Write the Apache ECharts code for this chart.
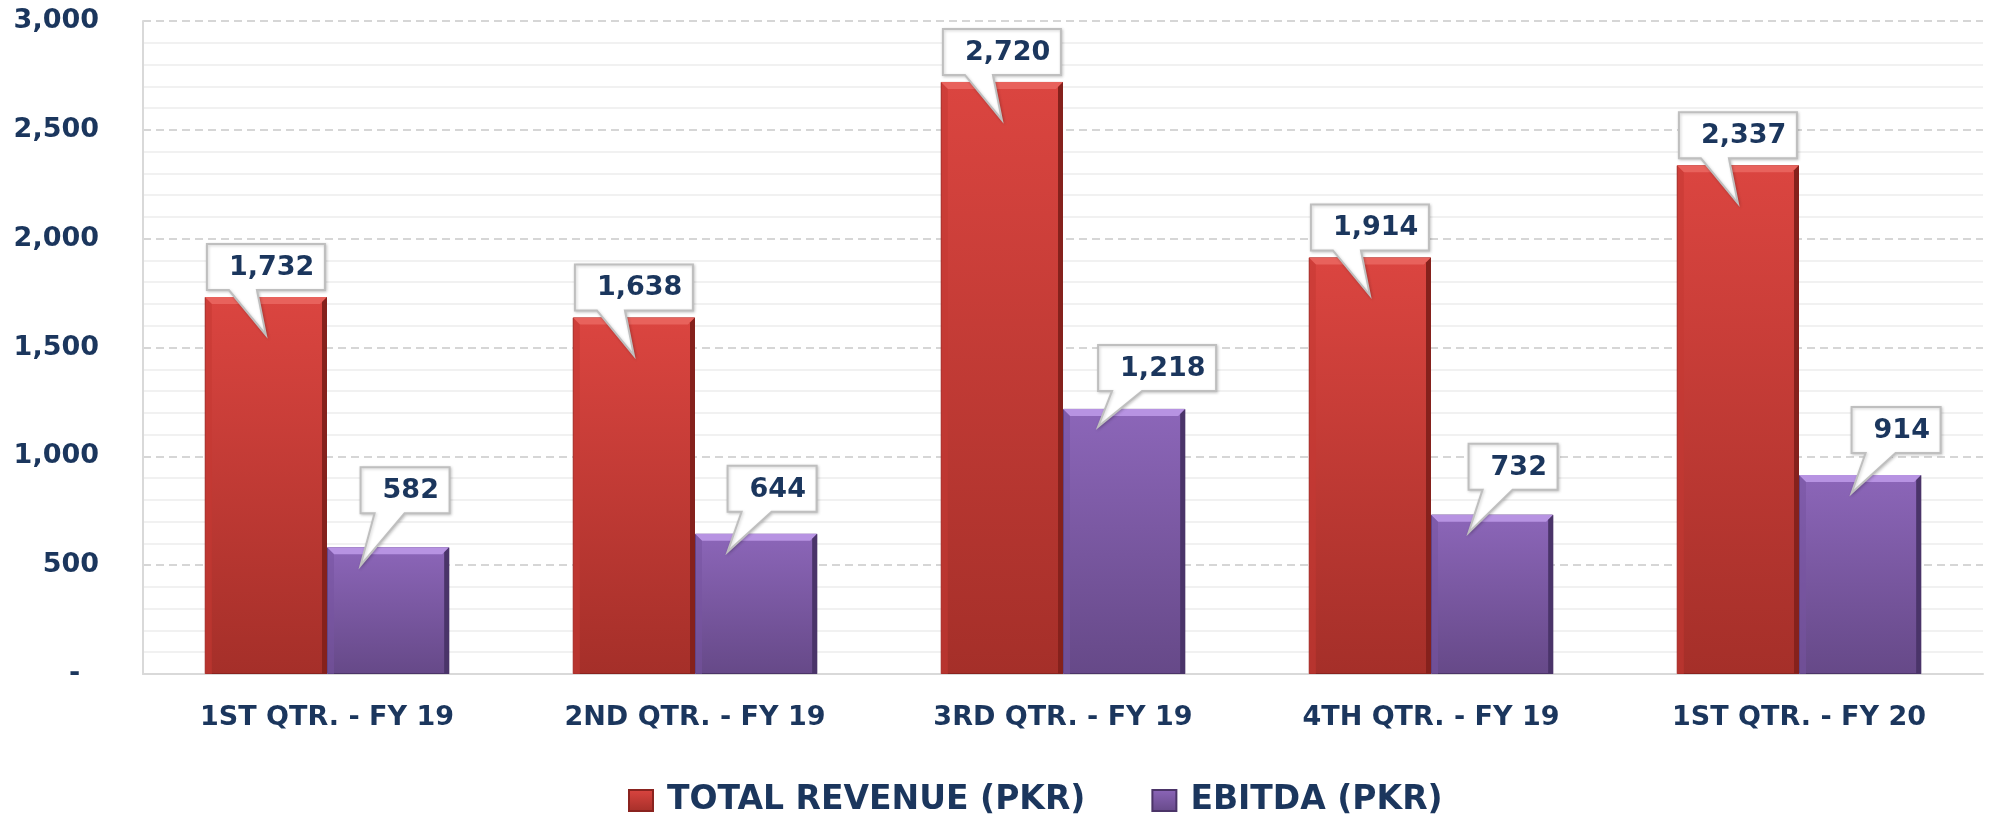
<!DOCTYPE html>
<html>
<head>
<meta charset="utf-8">
<script src="https://cdn.jsdelivr.net/npm/echarts@6/dist/echarts.min.js"></script>
<style>
html,body{margin:0;padding:0;background:#fff;}
#chart{width:1995px;height:817px;}
</style>
</head>
<body>
<div id="chart"></div>
<script>
// ---- data ----
const categories = ['1ST QTR. - FY 19', '2ND QTR. - FY 19', '3RD QTR. - FY 19', '4TH QTR. - FY 19', '1ST QTR. - FY 20'];
const seriesNames = ['TOTAL REVENUE (PKR)', 'EBITDA (PKR)'];
const revenue = [1732, 1638, 2720, 1914, 2337];
const ebitda = [582, 644, 1218, 732, 914];
const yTicks = [0, 500, 1000, 1500, 2000, 2500, 3000];

// ---- layout of callouts for the EBITDA labels (pixel nudges, not data) ----
const ebitdaCalloutDx = [17, 16, 33, 21, 36];
const ebitdaCalloutGap = [34, 22, 18, 25, 22];

const NAVY = '#1b365d';
const FONT = '"DejaVu Sans", Verdana, sans-serif';
const CAT_GAP = 0.336;

const fmt = v => v === 0 ? '-  ' : v.toLocaleString('en-US');

const mctx = document.createElement('canvas').getContext('2d');
mctx.font = 'bold 27px ' + FONT;
const measure = t => mctx.measureText(t).width;

const pointData = [];
revenue.forEach((v, i) => pointData.push([i, v, 0]));
ebitda.forEach((v, i) => pointData.push([i, v, 1]));

function barGeom(api) {
  const ci = api.value(0), v = api.value(1), s = api.value(2);
  const pt = api.coord([ci, v]);
  const base = api.coord([ci, 0]);
  const bw = api.size([1, 0])[0] * (1 - CAT_GAP) / 2;
  const cx = pt[0] + (s === 0 ? -bw / 2 : bw / 2);
  return { ci, v, s, cx, top: pt[1], bottom: base[1], bw };
}

const bevelColors = [
  { top: '#e8625c', left: '#c53933', right: '#85211c' },
  { top: '#b793e2', left: '#7753a0', right: '#4a3469' }
];

function renderBevel(params, api) {
  const g = barGeom(api);
  const x0 = g.cx - g.bw / 2, x1 = g.cx + g.bw / 2;
  const t = g.top, b = g.bottom, k = 7;
  const c = bevelColors[g.s];
  return {
    type: 'group',
    children: [
      { type: 'polygon', shape: { points: [[x0, t], [x1, t], [x1 - k, t + k], [x0 + k, t + k]] }, style: { fill: c.top } },
      { type: 'polygon', shape: { points: [[x0, t], [x0 + k, t + k], [x0 + k, b], [x0, b]] }, style: { fill: c.left, opacity: 0.55 } },
      { type: 'polygon', shape: { points: [[x1, t], [x1, b], [x1 - 5, b], [x1 - 5, t + 5]] }, style: { fill: c.right } }
    ]
  };
}

function renderCallout(params, api) {
  const g = barGeom(api);
  const cx = g.cx, top = g.top, ci = g.ci;
  const txt = fmt(g.v);
  const w = Math.round(measure(txt) + 33), h = 46;
  let bx, by, b1, b2, tip;
  if (g.s === 0) {
    bx = cx - w / 2; by = top - 7 - h;
    b1 = bx + 22; b2 = bx + 50; tip = [cx, top + 38];
  } else {
    bx = cx + ebitdaCalloutDx[ci] - w / 2; by = top - ebitdaCalloutGap[ci] - h;
    b1 = bx + 14; b2 = bx + 44; tip = [bx, top + 18];
  }
  return {
    type: 'group',
    children: [
      {
        type: 'polygon',
        shape: { points: [[bx, by], [bx + w, by], [bx + w, by + h], [b2, by + h], tip, [b1, by + h], [bx, by + h]] },
        style: { fill: '#ffffff', stroke: '#bfbfbf', lineWidth: 2, shadowBlur: 3, shadowColor: 'rgba(0,0,0,0.18)', shadowOffsetX: 1, shadowOffsetY: 1 }
      },
      {
        type: 'text',
        style: { text: txt, x: bx + 22, y: by + h / 2 + 1, verticalAlign: 'middle', align: 'left', font: 'bold 27px ' + FONT, fill: NAVY }
      }
    ]
  };
}

const redGrad = new echarts.graphic.LinearGradient(0, 0, 0, 1, [
  { offset: 0, color: '#db4540' }, { offset: 1, color: '#a52f29' }
]);
const purpleGrad = new echarts.graphic.LinearGradient(0, 0, 0, 1, [
  { offset: 0, color: '#8c66b9' }, { offset: 1, color: '#664988' }
]);

const chart = echarts.init(document.getElementById('chart'), null, { renderer: 'canvas' });
chart.setOption({
  animation: false,
  backgroundColor: '#ffffff',
  grid: { left: 143, right: 12, top: 21, bottom: 143, containLabel: false },
  legend: {
    data: seriesNames,
    left: 623, top: 779,
    itemWidth: 24, itemHeight: 21, itemGap: 66,
    icon: 'rect',
    textStyle: { color: NAVY, fontFamily: FONT, fontWeight: 'bold', fontSize: 33, padding: [0, 0, 0, 9] }
  },
  xAxis: {
    type: 'category',
    data: categories,
    axisLine: { show: true, lineStyle: { color: '#d9d9d9', width: 2 } },
    axisTick: { show: false },
    axisLabel: { color: NAVY, fontFamily: FONT, fontWeight: 'bold', fontSize: 27, margin: 30 },
    splitLine: { show: false }
  },
  yAxis: {
    type: 'value',
    min: yTicks[0], max: yTicks[yTicks.length - 1], interval: 500,
    axisLine: { show: true, lineStyle: { color: '#d9d9d9', width: 2 } },
    axisTick: { show: false },
    axisLabel: { color: NAVY, fontFamily: FONT, fontWeight: 'bold', fontSize: 27, margin: 44, formatter: fmt },
    splitLine: { show: true, lineStyle: { color: '#c9c9c9', width: 1.5, type: [8, 5] } },
    minorTick: { show: false, splitNumber: 5 },
    minorSplitLine: { show: true, lineStyle: { color: '#ededed', width: 1.5 } }
  },
  series: [
    {
      name: seriesNames[0], type: 'bar', data: revenue,
      barGap: '0%', barCategoryGap: (CAT_GAP * 100) + '%',
      itemStyle: { color: redGrad, borderColor: '#8a231f', borderWidth: 1 },
      z: 2
    },
    {
      name: seriesNames[1], type: 'bar', data: ebitda,
      barGap: '0%', barCategoryGap: (CAT_GAP * 100) + '%',
      itemStyle: { color: purpleGrad, borderColor: '#4b3468', borderWidth: 1 },
      z: 2
    },
    {
      type: 'custom', name: 'bevel', data: pointData,
      renderItem: renderBevel, z: 5, silent: true,
      encode: { x: 0, y: 1 }
    },
    {
      type: 'custom', name: 'labels', data: pointData,
      renderItem: renderCallout, z: 10, silent: true,
      encode: { x: 0, y: 1 }
    }
  ]
});
</script>
</body>
</html>
